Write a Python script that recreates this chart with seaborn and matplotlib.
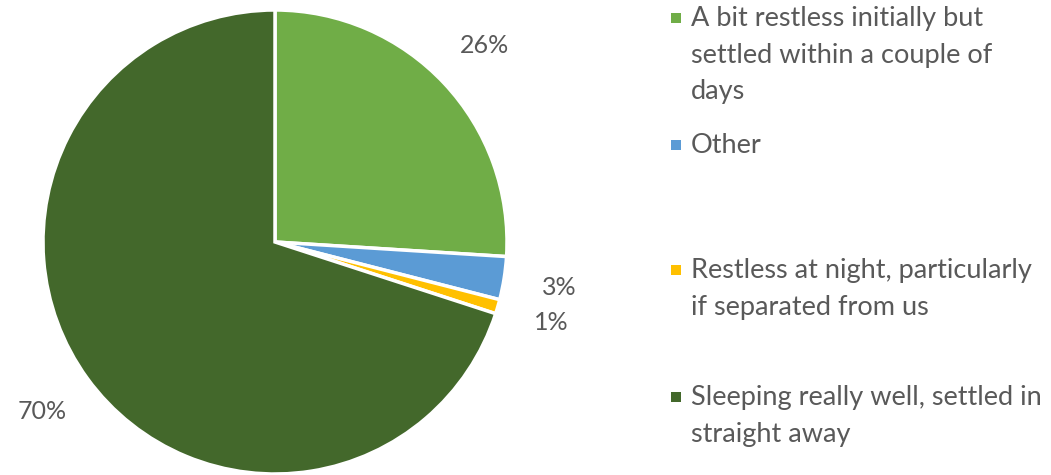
import matplotlib
matplotlib.use("Agg")
import matplotlib.pyplot as plt
import seaborn as sns
from matplotlib.patches import Rectangle

sns.set_theme(style="white")
plt.rcParams['font.family'] = ['Lato', 'DejaVu Sans']

categories = [
    "A bit restless initially but\nsettled within a couple of\ndays",
    "Other",
    "Restless at night, particularly\nif separated from us",
    "Sleeping really well, settled in\nstraight away",
]
values = [26, 3, 1, 70]
colors = ["#70AD47", "#5B9BD5", "#FFC000", "#43682B"]
text_color = "#595959"

W, H = 1051, 475
fig = plt.figure(figsize=(W / 100, H / 100), dpi=100)
ax = fig.add_axes([43 / W, 1 / H, 464 / W, 464 / H])

wedges, texts, autotexts = ax.pie(
    values, colors=colors, startangle=90, counterclock=False,
    autopct='%1.0f%%', pctdistance=1.24, radius=1,
    wedgeprops=dict(edgecolor='white', linewidth=2.5),
    textprops=dict(color=text_color, fontsize=18),
)
ax.set_xlim(-1, 1)
ax.set_ylim(-1, 1)
ax.set_aspect('equal')
ax.axis('off')

# Legend (manual placement to match reference spacing)
legend_y = [18, 145, 270, 397]  # first-line centers in pixels
for lab, col, y in zip(categories, colors, legend_y):
    fig.patches.append(Rectangle((671 / W, 1 - (y + 5) / H), 10 / W, 10 / H,
                                 transform=fig.transFigure, facecolor=col,
                                 edgecolor='none'))
    fig.text(691 / W, 1 - (y - 12) / H, lab, color=text_color, fontsize=19.5,
             va='top', ha='left', linespacing=1.58)

fig.savefig("out.png", dpi=100)
